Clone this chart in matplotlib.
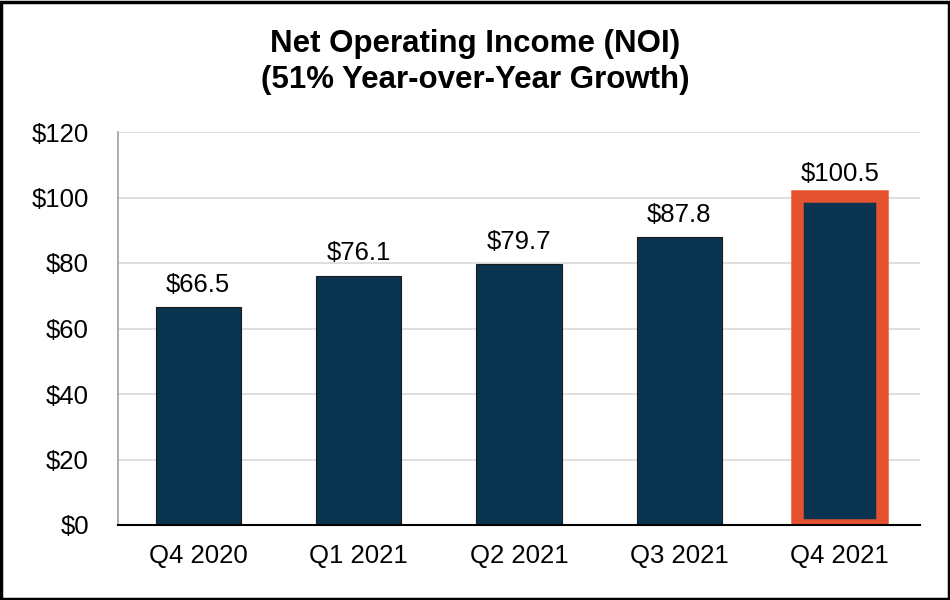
import matplotlib
matplotlib.use("Agg")
import matplotlib.pyplot as plt
from matplotlib.patches import Rectangle

categories = ["Q4 2020", "Q1 2021", "Q2 2021", "Q3 2021", "Q4 2021"]
values = [66.5, 76.1, 79.7, 87.8, 100.5]
value_labels = ["$66.5", "$76.1", "$79.7", "$87.8", "$100.5"]
y_ticks = [0, 20, 40, 60, 80, 100, 120]
y_tick_labels = ["$0", "$20", "$40", "$60", "$80", "$100", "$120"]
highlight_index = 4

plt.rcParams['font.family'] = ['Liberation Sans', 'DejaVu Sans']

navy = "#0A3350"
orange = "#E4532F"

fig = plt.figure(figsize=(9.5, 6), dpi=100)
ax = fig.add_axes([118/950, 75/600, (920-118)/950, (525-132)/600])

x = list(range(len(categories)))
ax.bar(x, values, width=0.53, color=navy, edgecolor="#1a1a1a", linewidth=0.8, zorder=3)
ax.bar([x[highlight_index]], [values[highlight_index]], width=0.53, facecolor="none",
       edgecolor=orange, linewidth=9, zorder=4)

for xi, v, lab in zip(x, values, value_labels):
    ax.annotate(lab, (xi, v), xytext=(0, 11), textcoords="offset points",
                ha="center", va="baseline", fontsize=18.5, color="black", zorder=5)

ax.set_xlim(-0.5, len(categories) - 0.5)
ax.set_ylim(0, 120)
ax.set_yticks(y_ticks)
ax.set_yticklabels(y_tick_labels, fontsize=18.5)
ax.set_xticks(x)
ax.set_xticklabels(categories, fontsize=18.5)
ax.tick_params(axis='y', length=0, pad=21)
ax.tick_params(axis='x', length=0, pad=14)

ax.grid(axis='y', color="#D9D9D9", linewidth=1.2, zorder=0)
ax.set_axisbelow(True)
for s in ["top", "right"]:
    ax.spines[s].set_visible(False)
ax.spines["left"].set_color("#A0A0A0")
ax.spines["left"].set_linewidth(1.2)
ax.spines["bottom"].set_color("black")
ax.spines["bottom"].set_linewidth(1.5)
ax.spines["bottom"].set_zorder(6)

fig.text(0.5, 1 - 44/600, "Net Operating Income (NOI)", ha="center", va="center",
         fontsize=22.5, fontweight="bold")
fig.text(0.5, 1 - 80/600, "(51% Year-over-Year Growth)", ha="center", va="center",
         fontsize=22.5, fontweight="bold")

fig.patches.append(Rectangle((0.0015, 0.0025), 0.997, 0.995, transform=fig.transFigure,
                             fill=False, edgecolor="black", linewidth=2.5))

fig.savefig("out.png", dpi=100)
